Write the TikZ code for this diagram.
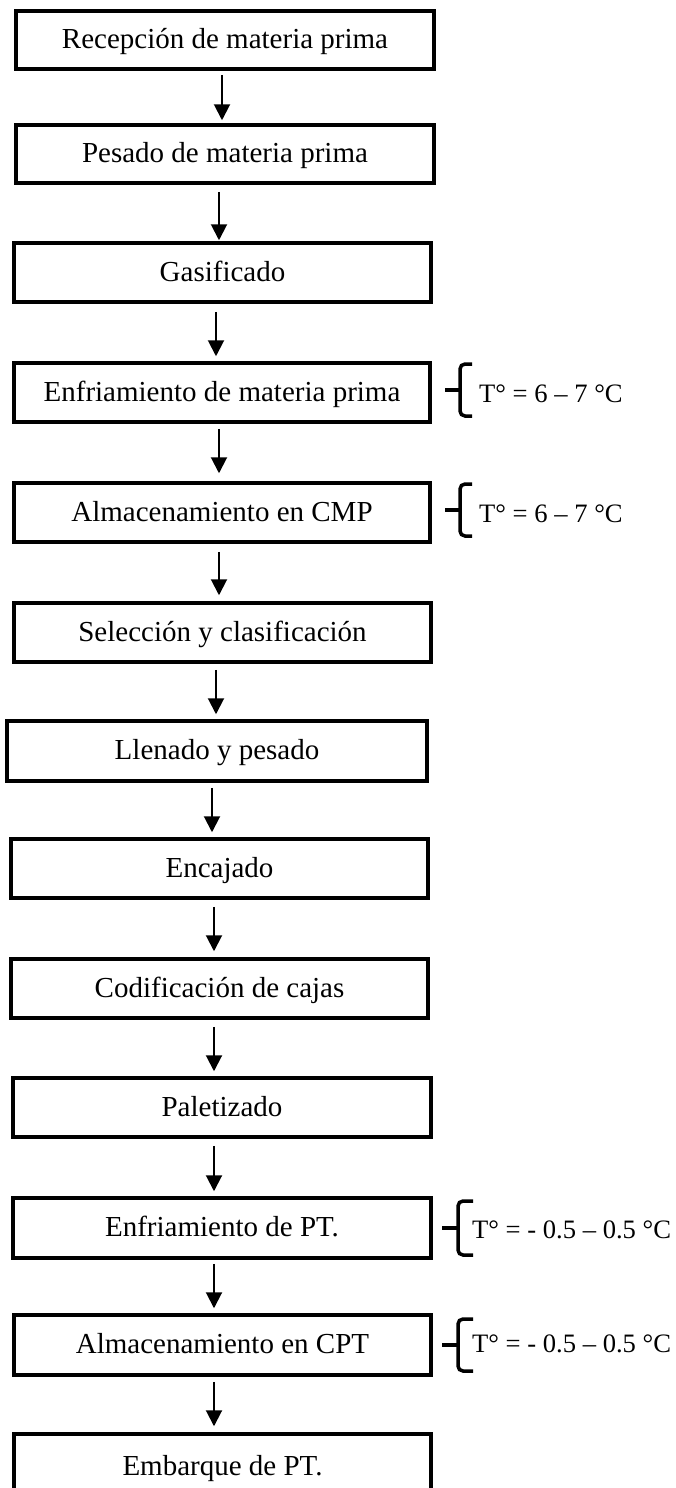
\documentclass[tikz,border=0pt]{standalone}
\usepackage{fontspec}
\setmainfont{Liberation Serif}
\usetikzlibrary{arrows.meta}
\begin{document}
\begin{tikzpicture}[x=1pt,y=-1pt,
  stepbox/.style={draw, line width=3.5pt, minimum width=418pt, minimum height=58pt,
    inner sep=0pt, font=\fontsize{29}{34}\selectfont, text height=17pt, text depth=0pt},
  arr/.style={line width=2pt, -{Triangle[width=16pt,length=16pt]}},
  bracepath/.style={line width=3.5pt, rounded corners=5pt},
  bracetip/.style={line width=3.5pt},
  temp/.style={anchor=base west, inner sep=0pt, font=\fontsize{26.6}{31}\selectfont}]
\useasboundingbox (0,0) rectangle (675,1488);
\clip (0,0) rectangle (675,1488);

\node[stepbox] (b1) at (225,40) {Recepción de materia prima};
\node[stepbox] (b2) at (225,154) {Pesado de materia prima};
\node[stepbox, minimum width=417pt, minimum height=59pt] (b3) at (222.5,272.5) {Gasificado};
\node[stepbox, minimum width=416pt, minimum height=59pt] (b4) at (222,392.5) {Enfriamiento de materia prima};
\node[stepbox, minimum width=416pt, minimum height=59pt] (b5) at (222,512.5) {Almacenamiento en CMP};
\node[stepbox, minimum width=417pt, minimum height=59pt] (b6) at (222.5,632.5) {Selección y clasificación};
\node[stepbox, minimum width=420pt, minimum height=60pt] (b7) at (217,751) {Llenado y pesado};
\node[stepbox, minimum width=417pt, minimum height=59pt] (b8) at (219.5,868.5) {Encajado};
\node[stepbox, minimum width=417pt, minimum height=59pt] (b9) at (219.5,988.5) {Codificación de cajas};
\node[stepbox, minimum width=418pt, minimum height=59pt] (b10) at (222,1107.5) {Paletizado};
\node[stepbox, minimum width=418pt, minimum height=60pt] (b11) at (222,1228) {Enfriamiento de PT.};
\node[stepbox, minimum width=417pt, minimum height=60pt] (b12) at (222.5,1345) {Almacenamiento en CPT};
\node[stepbox, minimum width=417pt, minimum height=66pt] (b13) at (222.5,1467) {Embarque de PT.};

\draw[arr] ([shift={(-3,4)}]b1.south) -- ([shift={(-3,-3)}]b2.north);
\draw[arr] ([shift={(-6,7)}]b2.south) -- ([shift={(-3.5,-1)}]b3.north);
\draw[arr] ([shift={(-6.5,8)}]b3.south) -- ([shift={(-6,-5)}]b4.north);
\draw[arr] ([shift={(-3,5)}]b4.south) -- ([shift={(-3,-8)}]b5.north);
\draw[arr] ([shift={(-3,8)}]b5.south) -- ([shift={(-3.5,-6)}]b6.north);
\draw[arr] ([shift={(-6.5,6)}]b6.south) -- ([shift={(-1,-5)}]b7.north);
\draw[arr] ([shift={(-5,5)}]b7.south) -- ([shift={(-7.5,-5)}]b8.north);
\draw[arr] ([shift={(-5.5,7)}]b8.south) -- ([shift={(-5.5,-6)}]b9.north);
\draw[arr] ([shift={(-5.5,7)}]b9.south) -- ([shift={(-8,-5)}]b10.north);
\draw[arr] ([shift={(-8,7)}]b10.south) -- ([shift={(-8,-5)}]b11.north);
\draw[arr] ([shift={(-8,4)}]b11.south) -- ([shift={(-8.5,-5)}]b12.north);
\draw[arr] ([shift={(-8.5,5)}]b12.south) -- ([shift={(-8.5,-6)}]b13.north);

% braces
\draw[bracepath] (472,364) -- (460,364) -- (460,416) -- (472,416);
\draw[bracetip] (460,390) -- (445,390);
\draw[bracepath] (472,484) -- (460,484) -- (460,536) -- (472,536);
\draw[bracetip] (460,510) -- (445,510);
\draw[bracepath] (473,1201) -- (458,1201) -- (458,1255) -- (473,1255);
\draw[bracetip] (458,1228) -- (442,1228);
\draw[bracepath] (473,1319) -- (458,1319) -- (458,1371) -- (473,1371);
\draw[bracetip] (458,1345) -- (442,1345);

\node[temp] (t4) at (479,402) {T° = 6 – 7 °C};
\node[temp] (t5) at (479,522) {T° = 6 – 7 °C};
\node[temp] (t11) at (472,1238) {T° = - 0.5 – 0.5 °C};
\node[temp] (t12) at (472,1352) {T° = - 0.5 – 0.5 °C};
\end{tikzpicture}
\end{document}
